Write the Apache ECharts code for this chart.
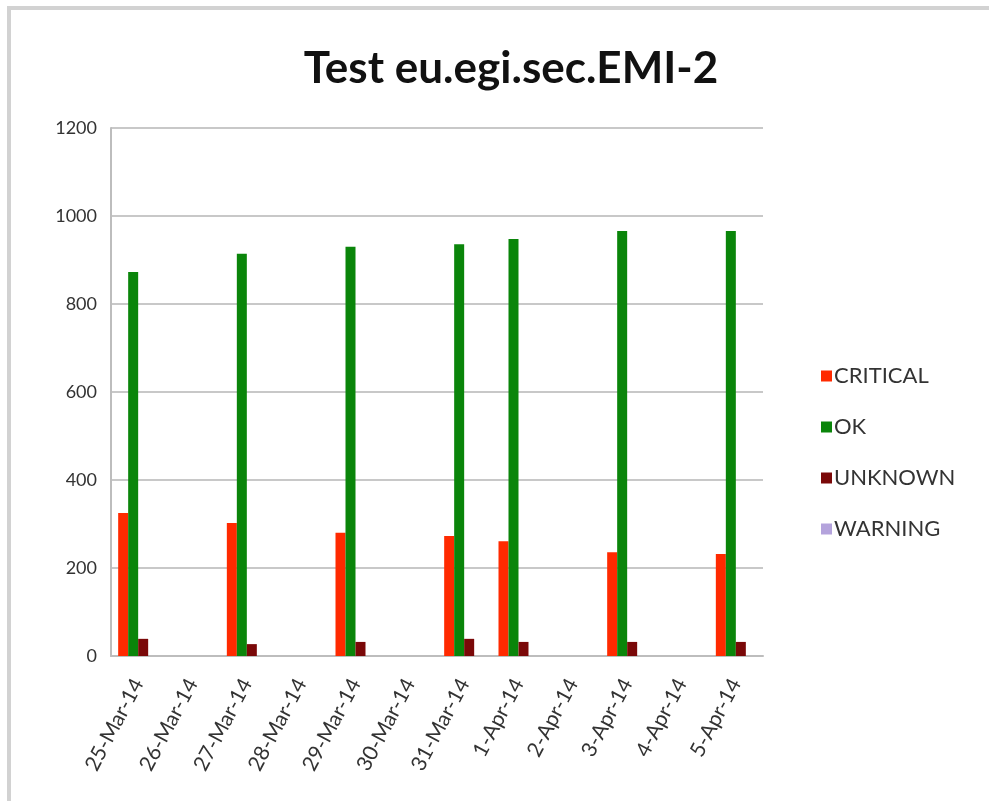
<!DOCTYPE html>
<html>
<head>
<meta charset="utf-8">
<script src="https://cdn.jsdelivr.net/npm/echarts@6/dist/echarts.min.js"></script>
<style>
html,body{margin:0;padding:0;background:#fff;}
#c{width:989px;height:801px;}
</style>
</head>
<body>
<div id="c"></div>
<script>
const categories = ['25-Mar-14','26-Mar-14','27-Mar-14','28-Mar-14','29-Mar-14','30-Mar-14','31-Mar-14','1-Apr-14','2-Apr-14','3-Apr-14','4-Apr-14','5-Apr-14'];
const critical = [325, null, 302, null, 280, null, 273, 261, null, 236, null, 232];
const ok       = [873, null, 914, null, 930, null, 936, 948, null, 966, null, 966];
const unknown  = [39, null, 27, null, 32, null, 39, 32, null, 32, null, 32];
const warning  = [0, null, 0, null, 0, null, 0, 0, null, 0, null, 0];
const yTicks = [0, 200, 400, 600, 800, 1000, 1200];

const FONT = 'Lato';
const chart = echarts.init(document.getElementById('c'));
const mk = (name, data, color) => ({
  name, type: 'bar', data, barWidth: 10, barGap: '0%',
  itemStyle: { color }
});
chart.setOption({
  animation: false,
  backgroundColor: '#fff',
  title: {
    text: 'Test eu.egi.sec.EMI-2',
    left: 506, top: 42, textAlign: 'center',
    textStyle: { fontFamily: FONT, fontWeight: 'bold', fontSize: 44, color: '#111' }
  },
  legend: {
    orient: 'vertical', left: 816, top: 360,
    itemWidth: 11, itemHeight: 11, itemGap: 29,
    icon: 'rect',
    textStyle: { fontFamily: FONT, fontSize: 22, color: '#333', padding: [0,0,0,-3] },
    data: ['CRITICAL','OK','UNKNOWN','WARNING']
  },
  graphic: [{
    type: 'rect', shape: { x: 9, y: 8, width: 1100, height: 900 },
    style: { fill: 'none', stroke: '#d2d2d2', lineWidth: 4 }, silent: true
  }],
  grid: { left: 111, right: 226, top: 128, bottom: 145 },
  xAxis: {
    type: 'category', data: categories,
    axisLine: { lineStyle: { color: '#bdbdbd', width: 2 } },
    axisTick: { show: false },
    axisLabel: { rotate: 62, margin: 24, fontFamily: FONT, fontSize: 21, color: '#333', interval: 0 }
  },
  yAxis: {
    type: 'value', min: yTicks[0], max: yTicks[yTicks.length-1], interval: 200,
    axisLine: { show: true, lineStyle: { color: '#bdbdbd', width: 2 } },
    axisTick: { show: false },
    splitLine: { lineStyle: { color: '#c8c8c8', width: 2 } },
    axisLabel: { margin: 14, fontFamily: FONT, fontSize: 18, color: '#333', formatter: v => String(v) }
  },
  series: [
    mk('CRITICAL', critical, '#ff2a00'),
    mk('OK', ok, '#0a850a'),
    mk('UNKNOWN', unknown, '#7a0808'),
    mk('WARNING', warning, '#b4a3dc')
  ]
});
</script>
</body>
</html>
